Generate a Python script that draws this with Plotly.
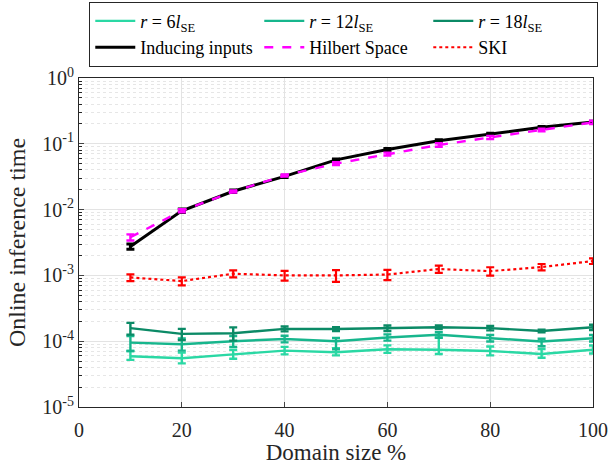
import plotly.graph_objects as go

domain = [10, 20, 30, 40, 50, 60, 70, 80, 90, 100]

r6 = [5.9e-5, 5.5e-5, 6.3e-5, 7.2e-5, 6.8e-5, 7.55e-5, 7.4e-5, 7.1e-5, 6.4e-5, 7.4e-5]
r6_up = [1.2e-5, 1.2e-5, 1.1e-5, 1.0e-5, 1.0e-5, 1.1e-5, 4.0e-5, 1.2e-5, 1.2e-5, 1.2e-5]
r6_dn = [7e-6, 9e-6, 9e-6, 9e-6, 7e-6, 9e-6, 1.0e-5, 1.0e-5, 8e-6, 9e-6]

r12 = [9.5e-5, 9.0e-5, 1.0e-4, 1.08e-4, 1.0e-4, 1.14e-4, 1.25e-4, 1.11e-4, 9.9e-5, 1.11e-4]
r12_up = [2.5e-5, 2.0e-5, 2.0e-5, 1.3e-5, 1.2e-5, 1.3e-5, 1.2e-5, 1.3e-5, 1.0e-5, 1.3e-5]
r12_dn = [2.4e-5, 1.8e-5, 1.8e-5, 1.2e-5, 2.5e-5, 1.2e-5, 1.2e-5, 1.2e-5, 1.5e-5, 1.2e-5]

r18 = [1.58e-4, 1.29e-4, 1.32e-4, 1.54e-4, 1.53e-4, 1.58e-4, 1.63e-4, 1.58e-4, 1.43e-4, 1.63e-4]
r18_err = [3.2e-5, 2.5e-5, 3.0e-5, 1.3e-5, 1.0e-5, 1.5e-5, 1.0e-5, 1.2e-5, 6e-6, 1.5e-5]

inducing = [2.75e-3, 9.6e-3, 0.019, 0.032, 0.057, 0.082, 0.111, 0.141, 0.178, 0.214]
inducing_err = [2.5e-4, 6e-4, 8e-4, 1.2e-3, 2e-3, 3e-3, 4e-3, 4e-3, 5e-3, 6e-3]

hilbert = [3.8e-3, 9.6e-3, 0.0188, 0.033, 0.050, 0.070, 0.096, 0.125, 0.162, 0.212]
hilbert_err = [4e-4, 5e-4, 7e-4, 1.2e-3, 2.5e-3, 3.5e-3, 6e-3, 7e-3, 7e-3, 1.2e-2]

ski = [9.3e-4, 8.2e-4, 1.06e-3, 1.0e-3, 1.0e-3, 1.03e-3, 1.25e-3, 1.16e-3, 1.34e-3, 1.65e-3]
ski_err = [1.1e-4, 1.15e-4, 1.3e-4, 1.7e-4, 2.0e-4, 1.8e-4, 1.6e-4, 1.7e-4, 1.5e-4, 1.6e-4]

names = ["<i>r</i> = 6<i>l</i><sub>SE</sub>", "<i>r</i> = 12<i>l</i><sub>SE</sub>",
         "<i>r</i> = 18<i>l</i><sub>SE</sub>", "Inducing inputs", "Hilbert Space", "SKI"]

x_ticks = [0, 20, 40, 60, 80, 100]
y_tickvals = [1e-5, 1e-4, 1e-3, 1e-2, 1e-1, 1e0]
y_ticktext = ["10<sup>-5</sup>", "10<sup>-4</sup>", "10<sup>-3</sup>",
              "10<sup>-2</sup>", "10<sup>-1</sup>", "10<sup>0</sup>"]

FONT = "Times New Roman, Liberation Serif, DejaVu Serif, serif"

fig = go.Figure()

def add(y, up, dn, name, color, dash, width):
    fig.add_trace(go.Scatter(
        x=domain, y=y, name=name, mode="lines",
        line=dict(color=color, width=width, dash=dash),
        error_y=dict(type="data", symmetric=False, array=up, arrayminus=dn,
                     color=color, thickness=width, width=4),
    ))

add(r6, r6_up, r6_dn, names[0], "#2ad8a4", "solid", 2.4)
add(r12, r12_up, r12_dn, names[1], "#17b68d", "solid", 2.4)
add(r18, r18_err, r18_err, names[2], "#0b8a66", "solid", 2.4)
add(inducing, inducing_err, inducing_err, names[3], "#000000", "solid", 3)
add(hilbert, hilbert_err, hilbert_err, names[4], "#ff00ff", "dash", 2.4)
add(ski, ski_err, ski_err, names[5], "#ff0000", "dot", 2.2)

fig.update_layout(
    width=608, height=465,
    margin=dict(l=79, r=15, t=78, b=58, autoexpand=False),
    paper_bgcolor="white", plot_bgcolor="white",
    font=dict(family=FONT, size=17, color="#262626"),
    showlegend=True,
    legend=dict(orientation="h", x=0.02, xanchor="left", y=1.232, yanchor="top",
                bordercolor="#262626", borderwidth=1, bgcolor="white",
                font=dict(family=FONT, size=18, color="#000000"),
                entrywidth=114, entrywidthmode="pixels", tracegroupgap=0,
                itemwidth=40),
    xaxis=dict(range=[0, 100], tickvals=x_ticks, ticks="inside", ticklen=5,
               showline=True, linecolor="#262626", linewidth=1, mirror=True,
               showgrid=True, gridcolor="#e3e3e3", zeroline=False, automargin=False,
               tickfont=dict(size=20), ticklabelstandoff=5,
               title=dict(text="Domain size %", font=dict(size=23), standoff=4)),
    yaxis=dict(type="log", range=[-5, 0], tickvals=y_tickvals, ticktext=y_ticktext,
               ticks="inside", ticklen=5, automargin=False,
               showline=True, linecolor="#262626", linewidth=1, mirror=True,
               showgrid=True, gridcolor="#e3e3e3", zeroline=False,
               tickfont=dict(size=20),
               minor=dict(ticks="inside", ticklen=3, showgrid=True, gridcolor="#e6e6e6",
                          griddash="dot", dtick="D1", tickcolor="#262626"),
               title=dict(text="Online inference time", font=dict(size=24), standoff=9)),
)

fig.write_html("out.html", config={"displayModeBar": False},
               post_script="document.body.style.margin='0';")
